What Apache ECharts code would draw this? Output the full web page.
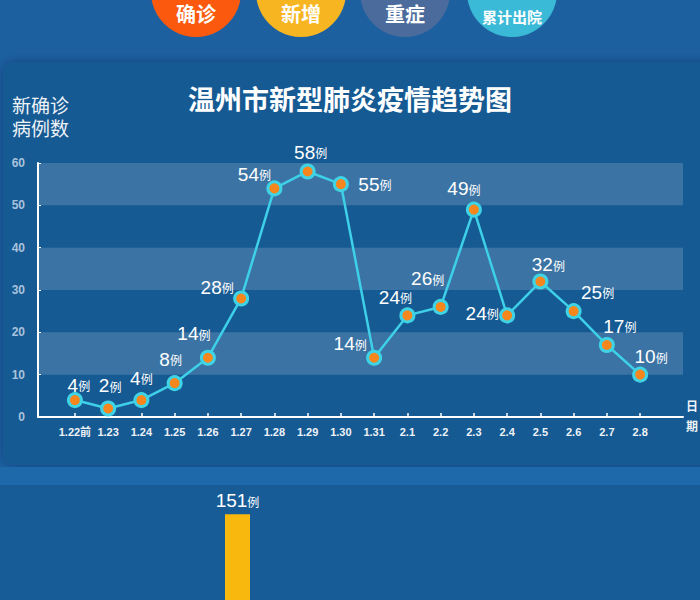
<!DOCTYPE html>
<html>
<head>
<meta charset="utf-8">
<script src="https://cdn.jsdelivr.net/npm/echarts@6/dist/echarts.min.js"></script>
<style>
html,body{margin:0;padding:0;background:#1b5f9f;}
#chart{width:700px;height:600px;}
</style>
</head>
<body>
<div id="chart"></div>
<script>
// ---- data ----
const categories = ['1.22前','1.23','1.24','1.25','1.26','1.27','1.28','1.29','1.30','1.31','2.1','2.2','2.3','2.4','2.5','2.6','2.7','2.8'];
const newCases = [4,2,4,8,14,28,54,58,55,14,24,26,49,24,32,25,17,10];
const topButtons = ['确诊','新增','重症','累计出院'];
const barCategories = ['累计'];
const barValues = [151];
const unit = '例';

// ---- layout / style config (not data) ----
const labelOffsets = [
  [4,-15],[2,-23],[0,-22],[-4,-24],[-14,-24],[-24,-11],[-20,-14],[3,-19],[34,0],
  [-24,-14],[-12,-18],[-13,-28],[-10,-21],[-25,-2],[8,-17],[24,-19],[13,-19],[11,-18]
];
const buttonColors = ['#fb5a0e','#f7b522','#4b6b9c','#3bbad8'];
const buttonX = [196,301,405,512];
const FONT = '"Liberation Sans","Noto Sans CJK SC",sans-serif';

const richLabel = {
  n: {fontSize: 19, color: '#ffffff', fontFamily: FONT},
  u: {fontSize: 12, color: '#ffffff', fontFamily: FONT, padding: [4,0,0,0]}
};

const lineData = newCases.map((v, i) => ({
  value: [i, v],
  label: {offset: labelOffsets[i]}
}));

const elements = [
  {type: 'rect', z: -30, shape: {x: 3, y: 62, width: 720, height: 403, r: 12},
   style: {fill: '#175a93', shadowBlur: 10, shadowColor: 'rgba(0,20,60,0.35)'}},
  {type: 'rect', z: -30, shape: {x: 0, y: 467, width: 700, height: 18}, style: {fill: '#1d69a9'}},
  {type: 'rect', z: -30, shape: {x: 0, y: 485, width: 700, height: 120}, style: {fill: '#175c97'}},
  {type: 'text', left: 12, top: 95, z: 5,
   style: {text: '新确诊\n病例数', fill: '#eef3f8', font: '19px ' + FONT, lineHeight: 23}}
];
topButtons.forEach((t, i) => {
  elements.push({type: 'circle', z: -20, shape: {cx: buttonX[i], cy: -8, r: 45}, style: {fill: buttonColors[i]}});
  elements.push({type: 'text', z: 5, x: buttonX[i], y: i === 3 ? 17 : 15,
    style: {text: t, fill: '#ffffff', font: (i === 3 ? 'bold 15px ' : 'bold 20px ') + FONT,
      align: 'center', verticalAlign: 'middle'}});
});

const chart = echarts.init(document.getElementById('chart'), null, {renderer: 'svg'});
chart.setOption({
  backgroundColor: '#1c60a0',
  animation: false,
  title: {
    text: '温州市新型肺炎疫情趋势图', left: 'center', top: 82,
    textStyle: {color: '#ffffff', fontSize: 27, fontWeight: 'bold', fontFamily: FONT}
  },
  graphic: {elements: elements},
  grid: [
    {left: 38, right: 17, top: 163, bottom: 183},
    {left: 200, width: 75, top: 495, bottom: 0}
  ],
  xAxis: [
    {
      type: 'value', gridIndex: 0, min: -1.11, max: 18.29,
      splitLine: {show: false},
      axisLine: {show: true, lineStyle: {color: '#ffffff', width: 2}},
      axisTick: {show: true, inside: true, length: 4, customValues: categories.map((c, i) => i),
        lineStyle: {color: '#ffffff', width: 1.5}},
      axisLabel: {
        show: true, margin: 9, customValues: categories.map((c, i) => i),
        formatter: v => categories[Math.round(v)] || '',
        color: '#eef3f8', fontSize: 11, fontWeight: 'bold', fontFamily: FONT
      },
      name: '日\n期', nameLocation: 'end', nameGap: 3,
      nameTextStyle: {color: '#eef3f8', fontSize: 12, fontWeight: 'bold', fontFamily: FONT, lineHeight: 20, padding: [24,0,0,0]}
    },
    {type: 'category', gridIndex: 1, data: barCategories, show: false}
  ],
  yAxis: [
    {
      type: 'value', gridIndex: 0, min: 0, max: 60, interval: 10,
      splitLine: {show: false},
      splitArea: {show: true, areaStyle: {color: ['rgba(255,255,255,0)', 'rgba(255,255,255,0.16)']}},
      axisLine: {show: true, onZero: false, lineStyle: {color: '#ffffff', width: 2}},
      axisTick: {show: true, inside: true, length: 3, lineStyle: {color: '#ffffff'}},
      axisLabel: {margin: 13, color: '#a9c2dc', fontSize: 12, fontWeight: 'bold', fontFamily: FONT}
    },
    {type: 'value', gridIndex: 1, min: 0, max: 185, show: false}
  ],
  series: [
    {
      type: 'line', xAxisIndex: 0, yAxisIndex: 0,
      data: lineData,
      lineStyle: {color: '#3dd0e8', width: 2.5},
      symbol: 'circle', symbolSize: 13,
      itemStyle: {color: '#f7861c', borderColor: '#3fd3e6', borderWidth: 3},
      label: {
        show: true, position: 'inside',
        formatter: p => '{n|' + p.value[1] + '}{u|' + unit + '}',
        rich: richLabel
      },
      z: 3
    },
    {
      type: 'bar', xAxisIndex: 1, yAxisIndex: 1,
      data: barValues, barWidth: 25,
      itemStyle: {color: '#f8b80d'},
      label: {
        show: true, position: 'top', distance: 4,
        formatter: p => '{n|' + p.value + '}{u|' + unit + '}',
        rich: richLabel
      }
    }
  ]
});
</script>
</body>
</html>
